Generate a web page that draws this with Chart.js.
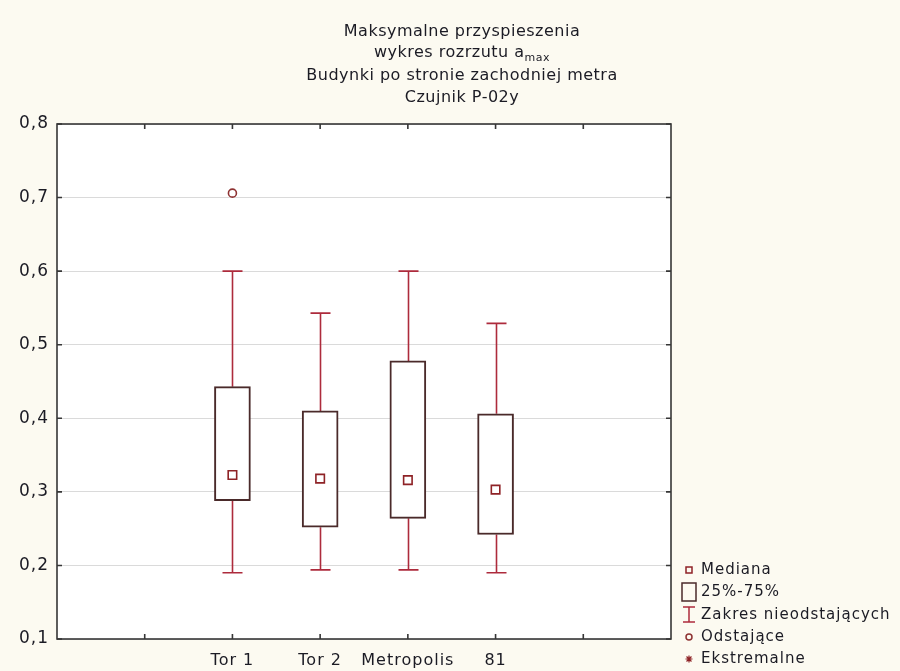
<!DOCTYPE html>
<html lang="pl">
<head>
<meta charset="utf-8">
<title>Maksymalne przyspieszenia</title>
<script src="https://cdn.jsdelivr.net/npm/chart.js@4.4.1/dist/chart.umd.min.js"></script>
<style>
  html, body { margin: 0; padding: 0; background: #fcfaf1; }
  canvas { display: block; }
</style>
</head>
<body>
<canvas id="chart" width="900" height="671"></canvas>
<script>
// Box-plot summary of peak accelerations per building group (sensor P-02y)
const categories  = ['Tor 1', 'Tor 2', 'Metropolis', '81'];
const whiskerMin  = [0.190, 0.194, 0.194, 0.190];
const quartile1   = [0.288, 0.252, 0.264, 0.242];
const medians     = [0.323, 0.318, 0.316, 0.303];
const quartile3   = [0.443, 0.410, 0.478, 0.406];
const whiskerMax  = [0.600, 0.543, 0.600, 0.529];
const outliers    = [[0.706], [], [], []];
const yTicks      = [0.1, 0.2, 0.3, 0.4, 0.5, 0.6, 0.7, 0.8];

const titleLines = [
  'Maksymalne przyspieszenia',
  ['wykres rozrzutu a', 'max'],
  'Budynki po stronie zachodniej metra',
  'Czujnik P-02y'
];
const legendItems = ['Mediana', '25%-75%', 'Zakres nieodstających', 'Odstające', 'Ekstremalne'];

const FONT = '"DejaVu Sans", sans-serif';
const TEXT = '#1b1b24';
const BOX = '#4a2a2a';
const WHISKER = '#ad2b3c';
const MEDIAN = '#8e2226';
const OUTLIER = '#8e3232';
const FRAME = '#363636';

// category slot of each group on the numeric x axis (slots 1..6, groups in 2..5)
const slot = i => i + 2;

const boxPlotDecor = {
  id: 'boxPlotDecor',
  beforeDraw(chart) {
    const { ctx, chartArea: a } = chart;
    ctx.save();
    ctx.fillStyle = '#ffffff';
    ctx.fillRect(a.left, a.top, a.right - a.left, a.bottom - a.top);
    ctx.restore();
    ctx.letterSpacing = '1px';
  },
  beforeDatasetsDraw(chart) {
    const { ctx, scales: { x, y } } = chart;
    ctx.save();
    ctx.strokeStyle = WHISKER;
    ctx.lineWidth = 1.6;
    categories.forEach((c, i) => {
      const px = Math.round(x.getPixelForValue(slot(i))) + 0.5;
      const yMax = y.getPixelForValue(whiskerMax[i]);
      const yQ3 = y.getPixelForValue(quartile3[i]);
      const yQ1 = y.getPixelForValue(quartile1[i]);
      const yMin = y.getPixelForValue(whiskerMin[i]);
      ctx.beginPath();
      ctx.moveTo(px, yMax); ctx.lineTo(px, yQ3);
      ctx.moveTo(px, yQ1); ctx.lineTo(px, yMin);
      ctx.moveTo(px - 10, yMax); ctx.lineTo(px + 10, yMax);
      ctx.moveTo(px - 10, yMin); ctx.lineTo(px + 10, yMin);
      ctx.stroke();
    });
    ctx.restore();
  },
  afterDraw(chart) {
    const { ctx, chartArea: a, scales: { x, y } } = chart;
    ctx.save();
    // frame with inward tick marks
    ctx.strokeStyle = FRAME;
    ctx.lineWidth = 1.6;
    ctx.strokeRect(a.left, a.top, a.right - a.left, a.bottom - a.top);
    ctx.beginPath();
    y.ticks.forEach(t => {
      const py = y.getPixelForValue(t.value);
      ctx.moveTo(a.left, py); ctx.lineTo(a.left + 5, py);
      ctx.moveTo(a.right, py); ctx.lineTo(a.right - 5, py);
    });
    x.ticks.forEach(t => {
      if (t.value <= x.min || t.value >= x.max) return;
      const px = x.getPixelForValue(t.value);
      ctx.moveTo(px, a.bottom); ctx.lineTo(px, a.bottom - 5);
      ctx.moveTo(px, a.top); ctx.lineTo(px, a.top + 5);
    });
    ctx.stroke();

    // title
    ctx.fillStyle = TEXT;
    ctx.textBaseline = 'alphabetic';
    ctx.textAlign = 'left';
    ctx.letterSpacing = '0.5px';
    const cx = 462;
    const baselines = [36, 57, 80, 102];
    titleLines.forEach((line, i) => {
      if (Array.isArray(line)) {
        ctx.font = '16px ' + FONT;
        const w1 = ctx.measureText(line[0]).width;
        ctx.font = '11px ' + FONT;
        const w2 = ctx.measureText(line[1]).width;
        const start = cx - (w1 + w2) / 2;
        ctx.font = '16px ' + FONT;
        ctx.fillText(line[0], start, baselines[i]);
        ctx.font = '11px ' + FONT;
        ctx.fillText(line[1], start + w1, baselines[i] + 4);
      } else {
        ctx.font = '16px ' + FONT;
        const w = ctx.measureText(line).width;
        ctx.fillText(line, cx - w / 2, baselines[i]);
      }
    });

    // legend
    ctx.letterSpacing = '1px';
    ctx.font = '15px ' + FONT;
    ctx.textBaseline = 'middle';
    const lx = 701;
    const ly = [570, 592, 615, 637, 659];
    legendItems.forEach((label, i) => {
      ctx.fillStyle = TEXT;
      ctx.fillText(label, lx, ly[i]);
    });
    const sx = 689;
    ctx.lineWidth = 1.5;
    // median marker
    ctx.strokeStyle = MEDIAN;
    ctx.strokeRect(sx - 3, ly[0] - 3, 6, 6);
    // quartile box
    ctx.strokeStyle = BOX;
    ctx.strokeRect(sx - 7, ly[1] - 9, 14, 18);
    // whisker range
    ctx.strokeStyle = WHISKER;
    ctx.beginPath();
    ctx.moveTo(sx - 6, ly[2] - 8); ctx.lineTo(sx + 6, ly[2] - 8);
    ctx.moveTo(sx, ly[2] - 8); ctx.lineTo(sx, ly[2] + 7);
    ctx.moveTo(sx - 6, ly[2] + 7); ctx.lineTo(sx + 6, ly[2] + 7);
    ctx.stroke();
    // outlier marker
    ctx.strokeStyle = OUTLIER;
    ctx.beginPath();
    ctx.arc(sx, ly[3], 3, 0, Math.PI * 2);
    ctx.stroke();
    // extreme marker
    ctx.strokeStyle = MEDIAN;
    ctx.lineWidth = 1.2;
    ctx.beginPath();
    for (let k = 0; k < 4; k++) {
      const ang = k * Math.PI / 4;
      ctx.moveTo(sx - 3.5 * Math.cos(ang), ly[4] - 3.5 * Math.sin(ang));
      ctx.lineTo(sx + 3.5 * Math.cos(ang), ly[4] + 3.5 * Math.sin(ang));
    }
    ctx.stroke();
    ctx.restore();
  }
};

new Chart(document.getElementById('chart'), {
  type: 'bar',
  data: {
    datasets: [
      {
        type: 'bar',
        label: '25%-75%',
        data: categories.map((c, i) => ({ x: slot(i), y: [quartile1[i], quartile3[i]] })),
        backgroundColor: '#ffffff',
        borderColor: BOX,
        borderWidth: 2,
        borderSkipped: false,
        barThickness: 36,
        grouped: false,
        order: 3
      },
      {
        type: 'scatter',
        label: 'Mediana',
        data: categories.map((c, i) => ({ x: slot(i), y: medians[i] })),
        pointStyle: 'rect',
        pointRadius: 6,
        backgroundColor: '#ffffff',
        borderColor: MEDIAN,
        borderWidth: 1.6,
        order: 1
      },
      {
        type: 'scatter',
        label: 'Odstające',
        data: outliers.flatMap((vals, i) => vals.map(v => ({ x: slot(i), y: v }))),
        pointStyle: 'circle',
        pointRadius: 4,
        backgroundColor: '#ffffff',
        borderColor: OUTLIER,
        borderWidth: 1.6,
        order: 1
      }
    ]
  },
  options: {
    responsive: false,
    animation: false,
    events: [],
    layout: { padding: { top: 124, right: 229, left: 0, bottom: 0 } },
    plugins: { legend: { display: false }, tooltip: { enabled: false }, title: { display: false } },
    scales: {
      x: {
        type: 'linear',
        min: 0,
        max: 7,
        offset: false,
        ticks: {
          stepSize: 1,
          autoSkip: false,
          maxRotation: 0,
          padding: 12,
          color: TEXT,
          font: { family: FONT, size: 16 },
          callback: v => categories[v - 2] ?? ''
        },
        grid: { display: false, drawTicks: false },
        border: { display: false },
        afterFit(s) { s.height = 32; }
      },
      y: {
        min: 0.1,
        max: 0.8,
        afterBuildTicks(s) { s.ticks = yTicks.map(v => ({ value: v })); },
        ticks: {
          padding: 8,
          color: TEXT,
          font: { family: FONT, size: 17 },
          callback: v => v.toFixed(1).replace('.', ',')
        },
        grid: { color: '#dadada', lineWidth: 1, drawTicks: false },
        border: { display: false },
        afterFit(s) { s.width = 57; }
      }
    }
  },
  plugins: [boxPlotDecor]
});
</script>
</body>
</html>
